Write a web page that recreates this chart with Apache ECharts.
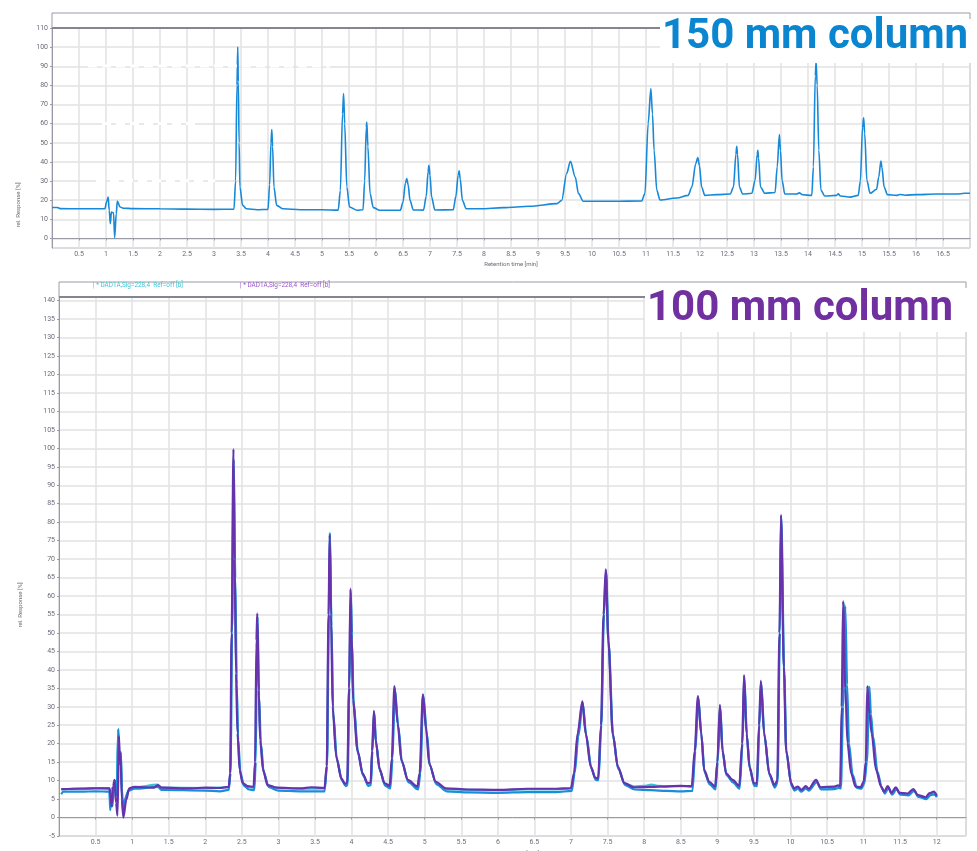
<!DOCTYPE html>
<html>
<head>
<meta charset="utf-8">
<script src="https://cdn.jsdelivr.net/npm/echarts@6/dist/echarts.min.js"></script>
<style>
  html, body { margin: 0; padding: 0; background: #fff; }
  #chart { width: 977px; height: 851px; }
</style>
</head>
<body>
<div id="chart"></div>
<script>
// Chromatograms: 150 mm column (top) vs 100 mm column (bottom)

// --- data: [retention time (min), rel. response (%)] ---
var col150 = [
  [0, 16.2], [0.1, 16.2], [0.15, 15.6], [0.5, 15.5], [0.98, 15.5], [1.01, 19], [1.04, 21.6], [1.06, 14.7],
  [1.08, 7.7], [1.10, 13.8], [1.14, 13.4], [1.16, 0.4], [1.19, 13], [1.21, 19.5], [1.26, 16.4], [1.32, 15.8],
  [1.5, 15.6], [2.0, 15.5], [2.5, 15.3], [3.0, 15.2], [3.37, 15.3],
  [3.40, 30], [3.425, 80], [3.44, 100], [3.45, 82], [3.465, 50], [3.48, 26.9], [3.53, 17.3], [3.60, 15.5], [3.8, 15.0], [4.0, 15.2],
  [4.03, 28], [4.055, 50], [4.07, 56.9], [4.085, 48], [4.11, 26.9], [4.16, 17.3], [4.28, 15.5], [4.6, 15.0], [5.0, 15.0], [5.3, 14.8],
  [5.34, 25], [5.38, 65], [5.40, 75.8], [5.42, 60], [5.46, 26.9], [5.51, 16.4], [5.65, 14.7], [5.76, 15],
  [5.79, 30], [5.82, 58], [5.83, 60.9], [5.85, 48], [5.89, 23.4], [5.95, 16.1], [6.07, 14.7], [6.45, 14.7],
  [6.50, 19], [6.545, 29], [6.57, 31.3], [6.595, 28], [6.63, 19.9], [6.69, 14.9], [6.88, 14.8],
  [6.93, 22], [6.965, 35], [6.98, 38.2], [7.00, 33], [7.03, 21.6], [7.09, 14.9], [7.43, 15],
  [7.48, 22], [7.52, 33], [7.54, 35.3], [7.56, 31], [7.60, 19.9], [7.67, 15.5], [7.93, 15.5], [8.36, 16.1], [8.85, 16.8], [9.35, 18.2],
  [9.44, 19.9], [9.53, 33.9], [9.60, 40.3], [9.69, 32.1], [9.75, 23.4], [9.84, 19.4], [10.4, 19.4], [10.92, 19.6],
  [10.98, 23.4], [11.04, 60], [11.09, 78.4], [11.12, 65], [11.15, 46.1], [11.20, 25.1], [11.26, 20.1], [11.57, 21.1], [11.78, 22.5],
  [11.85, 26.9], [11.92, 39], [11.96, 42.3], [11.99, 38], [12.03, 26.9], [12.09, 22.5], [12.31, 22.9], [12.56, 23.2],
  [12.62, 26.9], [12.665, 44], [12.68, 48.2], [12.695, 44], [12.73, 26.9], [12.79, 23.2], [12.96, 23.6],
  [13.02, 30.4], [13.06, 44], [13.07, 46.1], [13.085, 42], [13.12, 26.9], [13.20, 23.6], [13.39, 24],
  [13.43, 37.4], [13.47, 54.3], [13.49, 46], [13.52, 30.4], [13.57, 23.2], [13.79, 23.2], [13.84, 23.8], [13.9, 22.8], [14.07, 22.5],
  [14.10, 37.4], [14.135, 85], [14.15, 92.4], [14.17, 80], [14.20, 46.1], [14.24, 25.1], [14.31, 22.2], [14.53, 22.5], [14.56, 23.3],
  [14.6, 22.2], [14.78, 21.6], [14.93, 22.5],
  [14.97, 30], [15.01, 58], [15.03, 63], [15.05, 55], [15.09, 30.4], [15.15, 23.6], [15.27, 25.7],
  [15.31, 32.1], [15.35, 40.5], [15.37, 37], [15.41, 26.9], [15.47, 22.9], [15.64, 22.5], [15.7, 23], [15.8, 22.6],
  [16.01, 22.9], [16.38, 23.2], [16.75, 23.2], [16.9, 23.6], [17.0, 23.6]
];

var col100Cyan = [
  [0.03, 7.6], [0.3, 7.9], [0.5, 8.0], [0.69, 7.9], [0.70, 4], [0.72, 8], [0.74, 5], [0.76, 10], [0.79, 7], [0.81, 24], [0.83, 16],
  [0.845, 17.5], [0.86, 6], [0.875, 1.5], [0.91, 5], [0.96, 7.8], [1.03, 8.2], [1.35, 8.9], [1.4, 8.1], [2.0, 8.0], [2.32, 8.2],
  [2.345, 12], [2.365, 50], [2.385, 95], [2.405, 68], [2.425, 38], [2.445, 22], [2.475, 12.5], [2.52, 9], [2.6, 8.2], [2.665, 8.1],
  [2.685, 15], [2.70, 46], [2.712, 54], [2.73, 34], [2.755, 20.5], [2.795, 12.5], [2.86, 8.6], [3.0, 8.0], [3.3, 7.8], [3.63, 7.9],
  [3.662, 14], [3.688, 56], [3.702, 77.2], [3.722, 54], [3.745, 29], [3.795, 16], [3.865, 10.3], [3.915, 8.9], [3.942, 9.2],
  [3.967, 35], [3.987, 61.5], [4.002, 49], [4.025, 31], [4.085, 17.8], [4.155, 11.6], [4.225, 9], [4.262, 9.2],
  [4.282, 18], [4.307, 28.5], [4.332, 20.5], [4.385, 13], [4.455, 9], [4.525, 8.3],
  [4.555, 16], [4.587, 35.3], [4.635, 25], [4.685, 15.2], [4.775, 9.9], [4.905, 8.1],
  [4.935, 12], [4.977, 33.2], [5.025, 23.2], [5.065, 14.3], [5.155, 9.4], [5.295, 7.7],
  [5.6, 7.5], [6.0, 7.4], [6.4, 7.6], [6.8, 7.6], [7.0, 7.8],
  [7.045, 12], [7.095, 22.5], [7.157, 31.3], [7.205, 22.5], [7.275, 13.5], [7.335, 10.5], [7.372, 10.4],
  [7.412, 25], [7.447, 55], [7.477, 67], [7.512, 47.5], [7.572, 22.5], [7.642, 13.5], [7.735, 9.2], [7.865, 8.4],
  [8.0, 8.6], [8.1, 8.9], [8.2, 8.6], [8.3, 8.5], [8.5, 8.5], [8.655, 8.4],
  [8.695, 18], [8.737, 32.7], [8.782, 22.5], [8.822, 12.6], [8.892, 9.4], [8.972, 8.2],
  [9.002, 15], [9.037, 30.3], [9.072, 18], [9.122, 11.8], [9.212, 10], [9.302, 8.4],
  [9.342, 20], [9.367, 38.3], [9.402, 22.5], [9.442, 13.5], [9.502, 9], [9.542, 9],
  [9.572, 25], [9.597, 36.8], [9.642, 22.5], [9.712, 11.8], [9.782, 8.6], [9.822, 9.8],
  [9.852, 50], [9.872, 81.5], [9.912, 40], [9.942, 18], [10.012, 9], [10.052, 7.7], [10.1, 8.2], [10.15, 7.3], [10.21, 8.3],
  [10.25, 7.6], [10.35, 10], [10.41, 8], [10.60, 8.2], [10.65, 8.5], [10.68, 8.3],
  [10.71, 30], [10.735, 58], [10.76, 35.5], [10.79, 20], [10.84, 11.8], [10.90, 8.2], [10.965, 8], [11.005, 9.5], [11.04, 15],
  [11.065, 35.5], [11.09, 28], [11.12, 22.5], [11.18, 12.6], [11.245, 8.2], [11.285, 6.8], [11.335, 8.3], [11.385, 6.5],
  [11.445, 8], [11.495, 6.5], [11.605, 6.3], [11.685, 7.5], [11.745, 5.9], [11.855, 5.3], [11.905, 6.4], [11.965, 6.8], [12.0, 5.8]
];

var col100Blue = [
  [0.03, 6.3], [0.06, 7.0], [0.3, 7.0], [0.5, 7.1], [0.69, 7.0], [0.70, 2.0], [0.72, 6.5], [0.73, 3.0], [0.75, 8.5], [0.77, 10.0],
  [0.79, 6.0], [0.81, 23.9], [0.83, 14.5], [0.845, 17.8], [0.86, 8.0], [0.875, 2.0], [0.90, 5.0], [0.95, 7.3], [1.03, 7.8],
  [1.35, 8.3], [1.4, 7.5], [2.0, 7.3], [2.2, 7.1], [2.32, 7.5],
  [2.345, 12], [2.365, 50], [2.39, 97], [2.41, 65], [2.43, 36], [2.45, 21], [2.48, 12], [2.53, 8.6], [2.6, 7.6], [2.67, 7.4],
  [2.69, 15], [2.705, 45], [2.715, 54.5], [2.735, 33], [2.76, 20], [2.80, 12], [2.87, 8.2], [3.0, 7.3], [3.3, 7.1], [3.63, 7.1],
  [3.665, 14], [3.69, 55], [3.705, 77], [3.725, 52], [3.75, 28], [3.80, 15.5], [3.87, 10], [3.92, 8.5], [3.945, 8.8],
  [3.97, 35], [3.99, 61], [4.005, 48], [4.03, 30], [4.09, 17.3], [4.16, 11.2], [4.23, 8.6], [4.265, 8.8],
  [4.285, 18], [4.31, 28.5], [4.335, 20], [4.39, 12.5], [4.46, 8.6], [4.53, 7.9],
  [4.56, 16], [4.59, 35], [4.64, 24.5], [4.69, 14.8], [4.78, 9.5], [4.91, 7.6],
  [4.94, 12], [4.98, 33], [5.03, 22.7], [5.07, 14], [5.16, 9], [5.30, 7.1],
  [5.6, 6.8], [6.0, 6.7], [6.4, 6.9], [6.8, 6.9], [7.01, 7.2],
  [7.05, 12], [7.10, 22], [7.16, 31], [7.21, 22], [7.28, 13.2], [7.34, 10.2], [7.375, 10.1],
  [7.415, 25], [7.45, 55], [7.48, 66.5], [7.515, 47], [7.575, 22], [7.645, 13.2], [7.74, 8.8], [7.87, 7.6],
  [8.1, 7.4], [8.3, 7.2], [8.5, 7.1], [8.66, 7.2],
  [8.70, 18], [8.74, 32.5], [8.785, 22], [8.825, 12.3], [8.895, 9], [8.975, 7.6],
  [9.005, 15], [9.04, 30], [9.075, 17.5], [9.125, 11.5], [9.215, 9.5], [9.305, 7.8],
  [9.345, 20], [9.37, 38], [9.405, 22], [9.445, 13.2], [9.505, 8.6], [9.545, 8.5],
  [9.575, 25], [9.60, 36.5], [9.645, 22], [9.715, 11.4], [9.785, 8.1], [9.825, 9.5],
  [9.855, 50], [9.875, 81], [9.915, 39], [9.945, 17.5], [10.015, 8.6], [10.055, 7.3], [10.1, 7.8], [10.15, 7.0], [10.21, 7.9],
  [10.25, 7.3], [10.36, 9.6], [10.42, 7.6], [10.60, 7.7], [10.66, 8.0], [10.69, 7.9],
  [10.72, 30], [10.75, 57.2], [10.775, 36], [10.80, 20], [10.85, 11.6], [10.91, 8.0], [10.97, 7.8], [11.01, 9.2], [11.045, 15],
  [11.08, 35.4], [11.10, 28], [11.13, 22], [11.19, 12.4], [11.25, 7.9], [11.29, 6.5], [11.34, 8.0], [11.39, 6.2], [11.45, 7.7],
  [11.50, 6.2], [11.61, 6.0], [11.69, 7.2], [11.75, 5.6], [11.86, 5.0], [11.91, 6.0], [11.97, 6.3], [12.0, 5.5]
];

var col100Purple = [
  [0.03, 7.7], [0.3, 7.8], [0.5, 7.9], [0.69, 7.9], [0.70, 6.5], [0.72, 3.0], [0.74, 8.5], [0.76, 10.2], [0.78, 4.0], [0.80, 0.5],
  [0.82, 22.0], [0.83, 15.5], [0.84, 17.5], [0.86, 4.8], [0.88, 0.0], [0.92, 4.8], [0.96, 7.9], [1.03, 8.3],
  [1.3, 8.1], [1.35, 8.8], [1.4, 8.1], [1.8, 7.9], [2.0, 8.1], [2.2, 8.0], [2.32, 8.3],
  [2.34, 12], [2.36, 50], [2.385, 99.8], [2.40, 70], [2.42, 39], [2.44, 22.9], [2.47, 12.9], [2.51, 9.3], [2.58, 8.5], [2.66, 8.3],
  [2.68, 15], [2.70, 48], [2.71, 55.3], [2.73, 34.5], [2.75, 21], [2.79, 12.9], [2.85, 8.8], [2.97, 8.1], [3.3, 7.9], [3.45, 8.2], [3.63, 8.0],
  [3.66, 14], [3.685, 55], [3.70, 76.5], [3.72, 55], [3.74, 30], [3.79, 16.5], [3.86, 10.6], [3.91, 9.1], [3.94, 9.5],
  [3.965, 35], [3.985, 62], [4.00, 50], [4.02, 31.8], [4.08, 18.3], [4.15, 12], [4.22, 9.3], [4.26, 9.5],
  [4.28, 18], [4.305, 28.9], [4.33, 21], [4.38, 13.3], [4.45, 9.3], [4.52, 8.6],
  [4.55, 16], [4.585, 35.6], [4.63, 25.5], [4.68, 15.6], [4.77, 10.2], [4.90, 8.4],
  [4.93, 12], [4.975, 33.4], [5.02, 23.7], [5.06, 14.7], [5.15, 9.7], [5.29, 7.9],
  [5.6, 7.6], [6.0, 7.5], [6.4, 7.8], [6.8, 7.8], [7.0, 8.0],
  [7.04, 12], [7.09, 22.8], [7.155, 31.5], [7.20, 22.8], [7.27, 13.8], [7.33, 10.8], [7.37, 10.6],
  [7.41, 25], [7.445, 55], [7.475, 67.2], [7.51, 48], [7.57, 22.8], [7.64, 13.8], [7.73, 9.3], [7.86, 8.2],
  [8.1, 8.3], [8.3, 8.4], [8.5, 8.6], [8.65, 8.5],
  [8.69, 18], [8.735, 32.9], [8.78, 22.8], [8.82, 12.9], [8.89, 9.7], [8.97, 8.4],
  [9.00, 15], [9.035, 30.5], [9.07, 18.3], [9.12, 12], [9.21, 10.2], [9.30, 8.6],
  [9.34, 20], [9.365, 38.6], [9.40, 22.8], [9.44, 13.8], [9.50, 9.3], [9.54, 9.2],
  [9.57, 25], [9.595, 37], [9.64, 22.8], [9.71, 12], [9.78, 8.8], [9.82, 10],
  [9.85, 50], [9.87, 82], [9.91, 40.8], [9.94, 18.3], [10.01, 9.3], [10.05, 7.9], [10.10, 8.4], [10.15, 7.5], [10.21, 8.5],
  [10.25, 7.8], [10.35, 10.2], [10.41, 8.2], [10.60, 8.4], [10.65, 8.7], [10.68, 8.5],
  [10.70, 30], [10.72, 58.6], [10.75, 35], [10.78, 20.1], [10.83, 12], [10.89, 8.4], [10.96, 8.2], [11.00, 9.7], [11.03, 15],
  [11.05, 35.6], [11.08, 28], [11.11, 22.8], [11.17, 12.9], [11.24, 8.4], [11.28, 7.0], [11.33, 8.5], [11.38, 6.7], [11.44, 8.2],
  [11.49, 6.7], [11.60, 6.5], [11.68, 7.7], [11.74, 6.1], [11.85, 5.5], [11.90, 6.6], [11.96, 7.0], [12.0, 5.9]
];

var legendLabels = ['| * DAD1A,Sig=228,4  Ref=off [b]', '| * DAD1A,Sig=228,4  Ref=off [b]'];

(function () {
  var grey = '#6b6b78';
  var gridLine = '#e2e2e2';
  var frame = '#9a9aa6';
  var font = 'Roboto, "Liberation Sans", sans-serif';

  var chart = echarts.init(document.getElementById('chart'), null, { renderer: 'canvas' });

  function xAx(idx, max, gap) {
    return {
      gridIndex: idx, type: 'value', min: 0, max: max, interval: 0.5,
      name: 'Retention time [min]', nameLocation: 'middle', nameGap: gap,
      nameTextStyle: { color: grey, fontSize: 6, fontFamily: font },
      axisLine: { lineStyle: { color: frame, width: 1 } },
      axisTick: { show: true, length: 2, lineStyle: { color: frame } },
      axisLabel: { color: grey, fontSize: 7, fontFamily: font, margin: 3, showMinLabel: false, showMaxLabel: false },
      splitLine: { show: true, lineStyle: { color: gridLine, width: 1.5 } }
    };
  }

  function yAx(idx, extra) {
    var a = {
      gridIndex: idx, type: 'value',
      axisLine: { show: true, lineStyle: { color: frame, width: 1 } },
      axisTick: { show: true, length: 2, lineStyle: { color: frame } },
      axisLabel: { color: grey, fontSize: 7, fontFamily: font, margin: 4 },
      splitLine: { show: true, lineStyle: { color: gridLine, width: 1.5 } }
    };
    for (var k in extra) a[k] = extra[k];
    return a;
  }

  var topAx = yAx(0, { min: -5, max: 110, minInterval: 10, maxInterval: 10, splitNumber: 11 });
  topAx.axisLabel.showMinLabel = false;
  var botAx = yAx(1, { min: -5, max: 141, interval: 5 });
  botAx.axisLabel.showMaxLabel = false;

  function line(idx, data, color, w) {
    return {
      type: 'line', xAxisIndex: idx, yAxisIndex: idx, data: data,
      showSymbol: false, symbol: 'none', smooth: 0.3, smoothMonotone: 'x',
      lineStyle: { color: color, width: w }, z: 3
    };
  }

  function header(x, y, w, h) {
    return [
      { type: 'rect', shape: { x: x, y: y, width: w, height: h }, style: { fill: 'none', stroke: frame, lineWidth: 1 }, z: 10 },
      { type: 'line', shape: { x1: x, y1: y + h, x2: x + w, y2: y + h }, style: { stroke: '#85858f', lineWidth: 2 }, z: 10 }
    ];
  }

  function eraser(x1, x2, y) {
    return { type: 'line', shape: { x1: x1, y1: y, x2: x2, y2: y },
      style: { stroke: '#fff', lineWidth: 3, lineDash: [9, 5] }, z: 9 };
  }

  var graphics = []
    .concat(header(52, 13, 918, 15))
    .concat(header(59, 282, 907, 15))
    .concat([
      eraser(88, 330, 66), eraser(102, 200, 123.5), eraser(96, 215, 180.7),
      { type: 'rect', shape: { x: 660, y: 19, width: 320, height: 44 }, style: { fill: '#fff' }, z: 20 },
      { type: 'text', x: 662, y: 37, z: 21,
        style: { text: '150 mm column', fill: '#0a85d0', font: 'bold 42px ' + font, textVerticalAlign: 'middle' } },
      { type: 'rect', shape: { x: 645, y: 288, width: 330, height: 44 }, style: { fill: '#fff' }, z: 20 },
      { type: 'text', x: 647, y: 309, z: 21,
        style: { text: '100 mm column', fill: '#7030a0', font: 'bold 42px ' + font, textVerticalAlign: 'middle' } },
      { type: 'text', x: 93, y: 285, z: 21,
        style: { text: legendLabels[0], fill: '#3cc6d6', font: '6.4px ' + font, textVerticalAlign: 'middle' } },
      { type: 'text', x: 240, y: 285, z: 21,
        style: { text: legendLabels[1], fill: '#9a55cc', font: '6.4px ' + font, textVerticalAlign: 'middle' } },
      { type: 'text', x: 18, y: 205, rotation: Math.PI / 2, z: 21,
        style: { text: 'rel. Response [%]', fill: grey, font: '6px ' + font, textAlign: 'center', textVerticalAlign: 'middle' } },
      { type: 'text', x: 20, y: 605, rotation: Math.PI / 2, z: 21,
        style: { text: 'rel. Response [%]', fill: grey, font: '6px ' + font, textAlign: 'center', textVerticalAlign: 'middle' } }
    ]);

  chart.setOption({
    animation: false,
    backgroundColor: '#fff',
    grid: [
      { left: 52, top: 28, width: 918, height: 220, show: true, borderColor: frame, borderWidth: 1,
        backgroundColor: 'transparent', outerBoundsMode: 'none', containLabel: false },
      { left: 59, top: 297, width: 907, height: 539, show: true, borderColor: frame, borderWidth: 1,
        backgroundColor: 'transparent', outerBoundsMode: 'none', containLabel: false }
    ],
    xAxis: [xAx(0, 17, 13), xAx(1, 12.4, 11)],
    yAxis: [topAx, botAx],
    series: [
      line(0, col150, '#1689d8', 1.6),
      line(1, col100Cyan, '#38c3d3', 2.2),
      line(1, col100Blue, '#1a8cda', 2.2),
      line(1, col100Purple, '#6633ad', 2.2)
    ],
    graphic: graphics
  });

  window.addEventListener('resize', function () { chart.resize(); });
})();
</script>
</body>
</html>
